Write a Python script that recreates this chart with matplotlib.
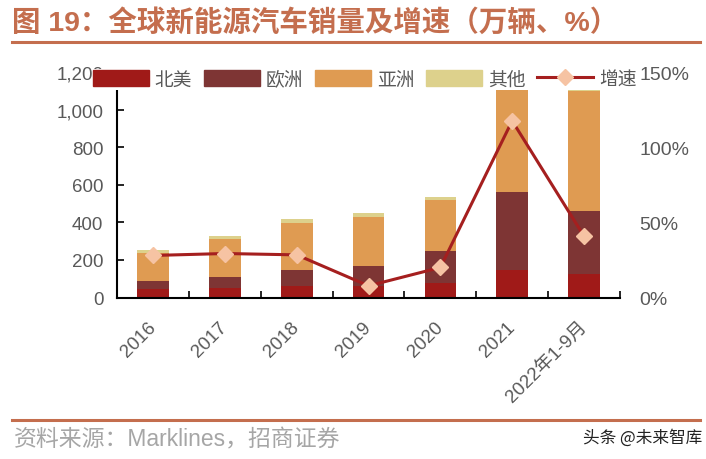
import numpy as np
import matplotlib.pyplot as plt
from matplotlib.lines import Line2D
from matplotlib.patches import Patch
from matplotlib.ticker import FuncFormatter

plt.rcParams['font.family'] = ['Liberation Sans', 'Noto Sans CJK SC', 'DejaVu Sans']

# data (万辆, %)
years = ['2016', '2017', '2018', '2019', '2020', '2021', '2022年1-9月']
north_america = [45, 50, 64, 62, 77, 146, 127]
europe = [41, 62, 81, 106, 173, 418, 332]
asia = [151, 197, 253, 262, 271, 589, 641]
other = [15, 18, 18, 18, 15, 12, 18]
growth = [28.0, 29.3, 28.4, 7.8, 20.0, 117.6, 40.9]

c_na = '#A01A18'
c_eu = '#7E3534'
c_asia = '#DF9B52'
c_other = '#DDD18C'
c_line = '#A51F1F'
c_marker = '#F6C3A3'
c_title = '#C46E4E'
c_text = '#595959'

fig = plt.figure(figsize=(7.06, 4.6), dpi=100)
ax = fig.add_axes([0.166, 0.351, 0.712, 0.490])
ax2 = ax.twinx()

x = np.arange(len(years))
w = 0.44
b1 = np.array(north_america)
b2 = b1 + np.array(europe)
b3 = b2 + np.array(asia)
ax.bar(x, north_america, w, color=c_na, zorder=2)
ax.bar(x, europe, w, bottom=b1, color=c_eu, zorder=2)
ax.bar(x, asia, w, bottom=b2, color=c_asia, zorder=2)
ax.bar(x, other, w, bottom=b3, color=c_other, zorder=2)

ax2.plot(x, np.array(growth) / 100, color=c_line, lw=2.2, marker='D',
         ms=8, mfc=c_marker, mec=c_marker, zorder=3)

ax.set_xlim(-0.5, 6.5)
ax.set_ylim(0, 1200)
ax.set_yticks(range(0, 1201, 200))
ax.yaxis.set_major_formatter(FuncFormatter(lambda v, p: f'{int(v):,}'))
ax2.set_ylim(0, 1.5)
ax2.set_yticks([0, 0.5, 1.0, 1.5])
ax2.yaxis.set_major_formatter(FuncFormatter(lambda v, p: f'{int(round(v * 100))}%'))

for s in ['top', 'right']:
    ax.spines[s].set_visible(False)
for s in ['top', 'right', 'left', 'bottom']:
    ax2.spines[s].set_visible(False)
ax.spines['left'].set_linewidth(1.5)
ax.spines['bottom'].set_linewidth(1.5)

ax.set_xticks(x)
ax.set_xticklabels(years, rotation=45, ha='right', va='center', rotation_mode='anchor')
ax.set_xticks(np.arange(-0.5, 7, 1), minor=True)
ax.tick_params(axis='x', which='major', length=0, pad=19, labelsize=13.5, labelcolor=c_text)
ax.tick_params(axis='x', which='minor', direction='in', length=5, width=1.2)
ax.tick_params(axis='y', direction='in', length=5, width=1.2, pad=10,
               labelsize=13.5, labelcolor=c_text)
ax2.tick_params(axis='y', length=0, pad=14, labelsize=14, labelcolor=c_text)

handles = [Patch(color=c_na), Patch(color=c_eu), Patch(color=c_asia), Patch(color=c_other),
           Line2D([], [], color=c_line, lw=2.2, marker='D', ms=8, mfc=c_marker, mec=c_marker)]
labels = ['北美', '欧洲', '亚洲', '其他', '增速']
leg = ax2.legend(handles, labels, loc='center left', bbox_to_anchor=(93 / 706, 1 - 80 / 460),
                 bbox_transform=fig.transFigure, ncol=5, frameon=True, framealpha=1,
                 edgecolor='none', facecolor='white', fancybox=False, borderpad=0,
                 borderaxespad=0, handlelength=3.0, handleheight=0.9, handletextpad=0.3,
                 columnspacing=0.62, prop={'family': ['Noto Sans CJK SC'], 'size': 13.5})
for t in leg.get_texts():
    t.set_color(c_text)

fig.text(12 / 706, 1 - 23 / 460, '图 19：全球新能源汽车销量及增速（万辆、%）', fontsize=20.5,
         fontweight='bold', color=c_title, va='center', ha='left',
         family=['Liberation Sans', 'Noto Sans CJK SC'])
fig.add_artist(Line2D([12 / 706, 700 / 706], [1 - 43 / 460] * 2, color=c_title, lw=2.2))
fig.add_artist(Line2D([12 / 706, 700 / 706], [1 - 421 / 460] * 2, color=c_title, lw=2.2))
fig.text(14 / 706, 1 - 440 / 460, '资料来源：Marklines，招商证券', fontsize=16.5,
         color='#A6A6A6', va='center', ha='left', family=['Liberation Sans', 'Noto Sans CJK SC'])
fig.text(702 / 706, 1 - 438 / 460, '头条 @未来智库', fontsize=12, color='#222222',
         va='center', ha='right', family=['Noto Sans CJK SC'])

fig.savefig('out.png', dpi=100)
